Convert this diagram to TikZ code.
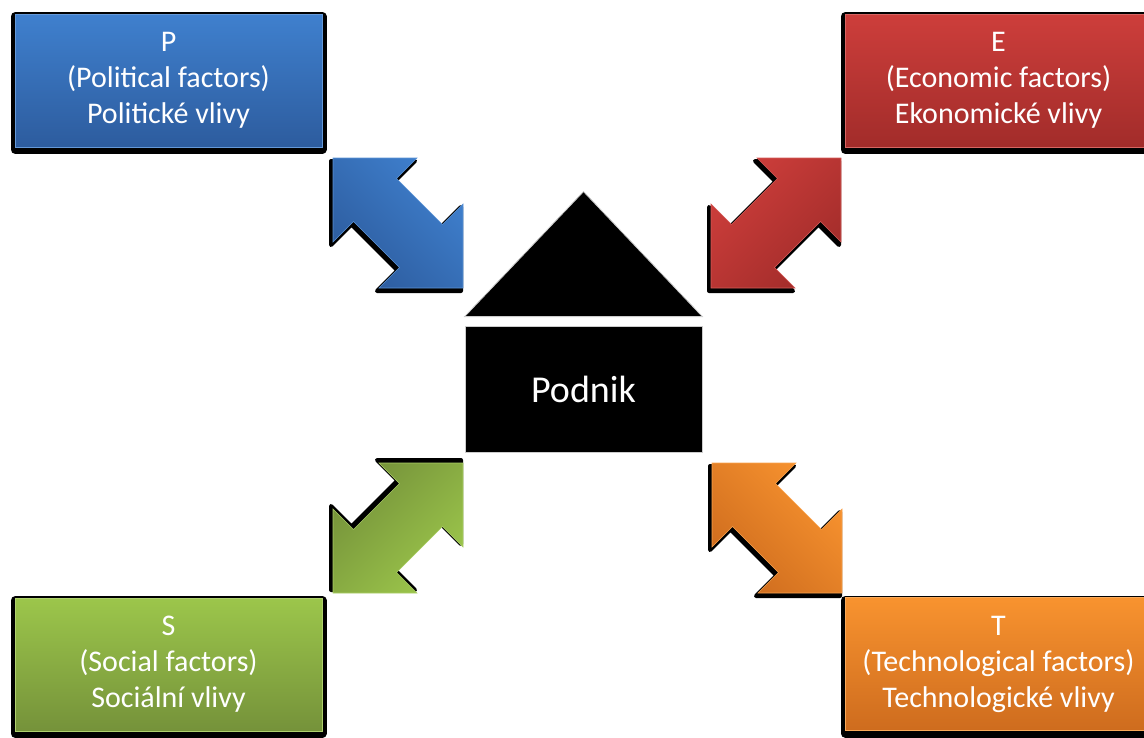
\documentclass[tikz,border=0pt]{standalone}
\usepackage{fontspec}
\setmainfont{Carlito}

\definecolor{blueA}{HTML}{3F80CE}
\definecolor{blueB}{HTML}{2D5C9E}
\definecolor{redA}{HTML}{CD3E3B}
\definecolor{redB}{HTML}{A22C2A}
\definecolor{greenA}{HTML}{9CC64B}
\definecolor{greenB}{HTML}{75923A}
\definecolor{orangeA}{HTML}{F8932F}
\definecolor{orangeB}{HTML}{CE6C1E}

\tikzset{
    factor/.style={minimum width=307pt, minimum height=133pt, inner sep=0pt,
        align=center, text=white, font=\fontsize{30}{36}\selectfont, line width=0.8pt,
        preaction={fill=black, draw=black, line width=9pt, line join=round,
            transform canvas={yshift=-2.5pt}}},
    dblarrow/.style={line width=0.6pt, line join=miter,
        preaction={fill=black, draw=black, line width=4pt, line join=round,
            transform canvas={xshift=-2pt, yshift=#1}}},
    dblarrow/.default=-3pt
}

\begin{document}
\begin{tikzpicture}[x=1pt, y=-1pt]
        \useasboundingbox (0,0) rectangle (1144,737);
        \clip (0,0) rectangle (1144,737);

        \coordinate (pa) at (398,223);
        \coordinate (ea) at (776,223);
        \coordinate (sa) at (398,528);
        \coordinate (ta) at (777,528);

        \begin{scope}[shift={(pa)}]
        \draw[dblarrow, draw=blueA!85!white, top color=blueA, bottom color=blueB, shading angle=-45] (-65,-65) -- (19,-65) -- (-1.5,-44.5) -- (44.5,1.5) -- (65,-19) -- (65,65) -- (-19,65) -- (1.5,44.5) -- (-44.5,-1.5) -- (-65,19) -- cycle;
        \end{scope}
        \begin{scope}[shift={(ea)}, x=-1pt]
        \draw[dblarrow, draw=redA!85!white, top color=redA, bottom color=redB, shading angle=45] (-65,-65) -- (19,-65) -- (-1.5,-44.5) -- (44.5,1.5) -- (65,-19) -- (65,65) -- (-19,65) -- (1.5,44.5) -- (-44.5,-1.5) -- (-65,19) -- cycle;
        \end{scope}
        \begin{scope}[shift={(sa)}, x=-1pt]
        \draw[dblarrow=3pt, draw=greenA!85!white, top color=greenA, bottom color=greenB, shading angle=-135] (-65,-65) -- (19,-65) -- (-1.5,-44.5) -- (44.5,1.5) -- (65,-19) -- (65,65) -- (-19,65) -- (1.5,44.5) -- (-44.5,-1.5) -- (-65,19) -- cycle;
        \end{scope}
        \begin{scope}[shift={(ta)}]
        \draw[dblarrow, draw=orangeA!85!white, top color=orangeA, bottom color=orangeB, shading angle=-45] (-65,-65) -- (19,-65) -- (-1.5,-44.5) -- (44.5,1.5) -- (65,-19) -- (65,65) -- (-19,65) -- (1.5,44.5) -- (-44.5,-1.5) -- (-65,19) -- cycle;
        \end{scope}

        \node[factor, draw=blueA!80!white, top color=blueA, bottom color=blueB] (pol) at (168.5,80.5) {P\\(Political factors)\\Politické vlivy};
        \node[factor, draw=redA!80!white, top color=redA, bottom color=redB] (eko) at (998.5,80.5) {E\\(Economic factors)\\Ekonomické vlivy};
        \node[factor, draw=greenA!80!white, top color=greenA, bottom color=greenB] (soc) at (168.5,664.5) {S\\(Social factors)\\Sociální vlivy};
        \node[factor, draw=orangeA!80!white, top color=orangeA, bottom color=orangeB] (tech) at (998.5,664) {T\\(Technological factors)\\Technologické vlivy};

        \node[fill=black, draw=gray!40, line width=0.8pt, minimum width=237pt, minimum height=126pt, text=white, font=\fontsize{38}{46}\selectfont] (podnik) at (583.5,389) {Podnik};
        \filldraw[fill=black, draw=gray!40, line width=0.8pt] ([yshift=9pt]podnik.north west) -- ([yshift=134pt]podnik.north) -- ([yshift=9pt]podnik.north east) -- cycle;
    \end{tikzpicture}
\end{document}
